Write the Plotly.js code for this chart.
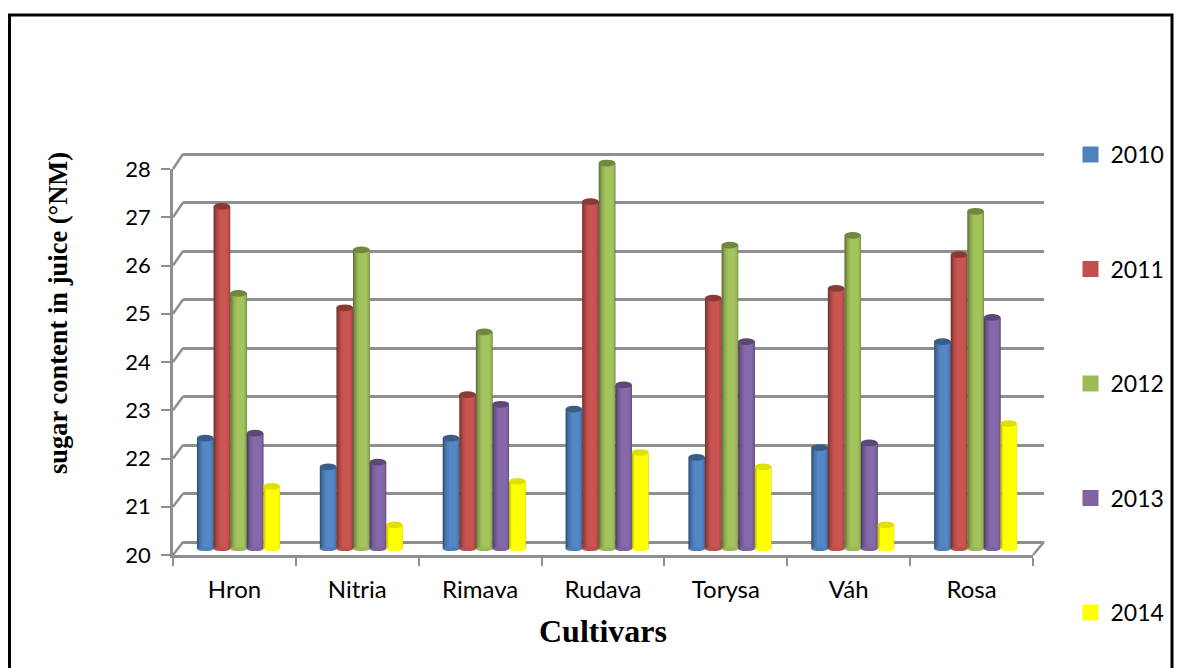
<!DOCTYPE html>
<html>
<head>
<meta charset="utf-8">
<script src="https://cdn.plot.ly/plotly-3.0.1.min.js"></script>
<style>html,body{margin:0;padding:0;background:#fff;overflow:hidden}</style>
</head>
<body>
<div id="chart" style="width:1184px;height:668px"></div>
<script>
const cultivars = ["Hron","Nitria","Rimava","Rudava","Torysa","Váh","Rosa"];
const years = ["2010","2011","2012","2013","2014"];
const values2010 = [22.3,21.7,22.3,22.9,21.9,22.1,24.3];
const values2011 = [27.1,25.0,23.2,27.2,25.2,25.4,26.1];
const values2012 = [25.3,26.2,24.5,28.0,26.3,26.5,27.0];
const values2013 = [22.4,21.8,23.0,23.4,24.3,22.2,24.8];
const values2014 = [21.3,20.5,21.4,22.0,21.7,20.5,22.6];
const seriesValues = [values2010,values2011,values2012,values2013,values2014];
const seriesColors = ["#4F81BD","#C0504D","#9BBB59","#8064A2","#FFFF00"];
const yTicks = [20,21,22,23,24,25,26,27,28];

const W = 1184, H = 668;
const GRAY = "#8f8f8f", FONT = "Lato, 'Open Sans', sans-serif", SERIF = "'Liberation Serif', serif";
const xDom = (a,b) => [a/W, b/W];
const yDom = (top,bottom) => [1-bottom/H, 1-top/H];
const FRONT = {l:173, r:1033, t:169, b:555};
const BACK  = {l:183, r:1044, t:154, b:542};
const BARS  = {l:177, r:1037, t:163, b:549};
const BAR_W = 0.135;
const backUnit = (BACK.b-BACK.t)/8, barUnit = (BARS.b-BARS.t)/8;

function shade(hex, f){
  const n = parseInt(hex.slice(1),16);
  const c = [n>>16&255, n>>8&255, n&255].map(v => Math.min(255, Math.round(v*f)));
  return "rgb("+c.join(",")+")";
}
// Cylinder shading bands: [left fraction, right fraction, brightness]
const bands = [[0,1,0.62],[0.06,1,0.75],[0.14,0.98,0.88],[0.24,0.93,0.98],[0.36,0.84,1.05]];

const traces = [];
// back wall grid subplot
traces.push({type:"scatter",mode:"none",x:[0,1],y:[20,28],xaxis:"x",yaxis:"y",showlegend:false,hoverinfo:"skip"});
// front axis subplot
traces.push({type:"scatter",mode:"none",x:cultivars,y:cultivars.map(()=>20),xaxis:"x2",yaxis:"y2",showlegend:false,hoverinfo:"skip"});
// cylinders
seriesValues.forEach((vals,i) => {
  const isYellow = seriesColors[i]==="#FFFF00";
  bands.forEach((b,j) => {
    const start = (i-2.5)*BAR_W + b[0]*BAR_W;
    traces.push({type:"bar",x:cultivars,y:vals,xaxis:"x3",yaxis:"y3",
      offset:start,width:(b[1]-b[0])*BAR_W,
      marker:{color:shade(seriesColors[i], isYellow ? Math.min(1.1,b[2]+0.12) : b[2]),line:{width:0}},
      name:years[i],showlegend:false,legendgroup:years[i],
      hoverinfo:j===0?"x+y+name":"skip"});
  });
});
// legend entries
years.forEach((y,i) => traces.push({type:"scatter",mode:"markers",x:[null],y:[null],xaxis:"x3",yaxis:"y3",
  name:y,legendgroup:y,marker:{symbol:"square",size:16,color:seriesColors[i]},hoverinfo:"skip"}));

const shapes = [{type:"rect",xref:"paper",yref:"paper",x0:9.5/W,x1:1172/W,y0:-0.1,y1:1-15/H,line:{color:"#000",width:3},layer:"below"}];
// depth connectors between front axis and back wall
const yf = v => FRONT.b-(v-20)*(FRONT.b-FRONT.t)/8, yb = v => BACK.b-(v-20)*(BACK.b-BACK.t)/8;
yTicks.forEach(v => shapes.push({type:"line",xref:"paper",yref:"paper",layer:"below",
  x0:FRONT.l/W,x1:BACK.l/W,y0:1-yf(v)/H,y1:1-yb(v)/H,line:{color:GRAY,width:2.5}}));
shapes.push({type:"line",xref:"paper",yref:"paper",layer:"below",x0:FRONT.r/W,x1:BACK.r/W,y0:1-FRONT.b/H,y1:1-BACK.b/H,line:{color:GRAY,width:2.5}});
// cylinder end caps
seriesValues.forEach((vals,i) => vals.forEach((v,k) => {
  const x0 = k+(i-2.5)*BAR_W, x1 = x0+BAR_W, mid = seriesColors[i]==="#FFFF00";
  shapes.push({type:"circle",xref:"x3",yref:"paper",x0,x1,y0:1-(BARS.b+2)/H,y1:1-(BARS.b-2)/H,layer:"above",
    fillcolor:shade(seriesColors[i],mid?1:0.98),line:{width:0}});
  shapes.push({type:"circle",xref:"x3",yref:"y3",x0,x1,y0:v-0.07,y1:v+0.07,layer:"above",
    fillcolor:shade(seriesColors[i],mid?0.88:0.72),line:{width:0}});
}));

const layout = {
  width:W,height:H,autosize:false,margin:{l:0,r:0,t:0,b:0},
  paper_bgcolor:"#fff",plot_bgcolor:"rgba(0,0,0,0)",barmode:"overlay",showlegend:true,
  font:{family:FONT,size:22,color:"#000"},
  xaxis:{domain:xDom(BACK.l,BACK.r),range:[0,1],visible:false,anchor:"y",fixedrange:true},
  yaxis:{domain:yDom(BACK.t-backUnit/2,BACK.b+backUnit/2),range:[19.5,28.5],anchor:"x",tickvals:yTicks,showgrid:true,gridcolor:GRAY,gridwidth:2.5,
    showticklabels:false,ticks:"",showline:false,zeroline:false,fixedrange:true},
  xaxis2:{domain:xDom(FRONT.l,FRONT.r),anchor:"y2",type:"category",categoryorder:"array",categoryarray:cultivars,range:[-0.5,6.5],
    tickson:"boundaries",ticks:"outside",ticklen:8,tickwidth:2,tickcolor:GRAY,showline:true,linecolor:GRAY,linewidth:2.5,
    showgrid:false,zeroline:false,ticklabelstandoff:11,tickfont:{family:FONT,size:24},fixedrange:true,
    title:{text:"Cultivars",font:{family:SERIF,size:32,color:"#000",weight:"bold"},standoff:19}},
  yaxis2:{domain:yDom(FRONT.t,FRONT.b),anchor:"x2",range:[20,28],tickvals:yTicks,ticks:"outside",ticklen:9,tickwidth:2,tickcolor:GRAY,
    showline:true,linecolor:GRAY,linewidth:2.5,showgrid:false,zeroline:false,ticklabelstandoff:6,tickfont:{family:FONT,size:22},fixedrange:true},
  xaxis3:{domain:xDom(BARS.l,BARS.r),anchor:"y3",type:"category",categoryorder:"array",categoryarray:cultivars,range:[-0.5,6.5],visible:false,fixedrange:true},
  yaxis3:{domain:yDom(BARS.t-barUnit/2,BARS.b),anchor:"x3",range:[20,28.5],visible:false,fixedrange:true},
  legend:{x:1070.5/W,xanchor:"left",y:1-133/H,yanchor:"top",tracegroupgap:81.6,traceorder:"grouped",font:{family:FONT,size:23,color:"#000"},bgcolor:"rgba(0,0,0,0)",itemclick:false,itemdoubleclick:false},
  annotations:[{text:"sugar content in juice (°NM)",xref:"paper",yref:"paper",x:58/W,y:1-313/H,xanchor:"center",yanchor:"middle",textangle:-90,showarrow:false,
    font:{family:SERIF,size:26.5,color:"#000",weight:"bold"}}],
  shapes
};
Plotly.newPlot("chart",traces,layout,{displayModeBar:false});
</script>
</body>
</html>
